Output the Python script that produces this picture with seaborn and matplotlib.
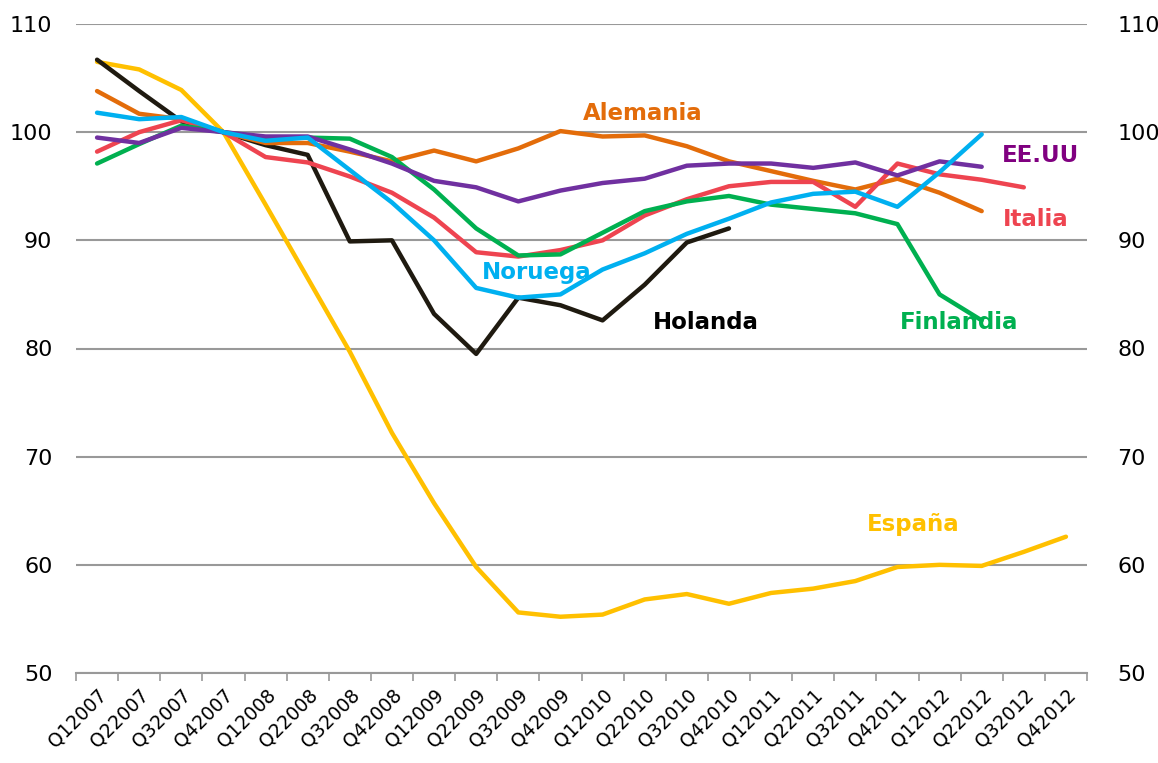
import numpy as np
import pandas as pd
import matplotlib
matplotlib.use("Agg")
import matplotlib.pyplot as plt
import seaborn as sns

quarters = ["Q12007", "Q22007", "Q32007", "Q42007", "Q12008", "Q22008", "Q32008", "Q42008",
            "Q12009", "Q22009", "Q32009", "Q42009", "Q12010", "Q22010", "Q32010", "Q42010",
            "Q12011", "Q22011", "Q32011", "Q42011", "Q12012", "Q22012", "Q32012", "Q42012"]

espana = [106.5, 105.8, 103.9, 100.0, 93.3, 86.5, 79.7, 72.2, 65.7, 59.8, 55.6, 55.2,
          55.4, 56.8, 57.3, 56.4, 57.4, 57.8, 58.5, 59.8, 60.0, 59.9, 61.2, 62.6]
holanda = [106.7, 103.8, 101.0, 100.0, 98.8, 97.9, 89.9, 90.0, 83.2, 79.5, 84.7, 84.0,
           82.6, 85.9, 89.8, 91.1]
alemania = [103.8, 101.7, 101.2, 100.0, 99.0, 99.0, 98.2, 97.3, 98.3, 97.3, 98.5, 100.1,
            99.6, 99.7, 98.7, 97.3, 96.4, 95.5, 94.7, 95.7, 94.4, 92.7]
eeuu = [99.5, 99.0, 100.4, 100.0, 99.6, 99.6, 98.4, 97.1, 95.5, 94.9, 93.6, 94.6,
        95.3, 95.7, 96.9, 97.1, 97.1, 96.7, 97.2, 96.0, 97.3, 96.8]
italia = [98.2, 100.0, 101.1, 100.0, 97.7, 97.2, 95.9, 94.4, 92.1, 88.9, 88.5, 89.1,
          90.0, 92.3, 93.8, 95.0, 95.4, 95.4, 93.1, 97.1, 96.1, 95.6, 94.9]
finlandia = [97.1, 98.9, 100.6, 100.0, 99.5, 99.5, 99.4, 97.7, 94.7, 91.1, 88.6, 88.7,
             90.7, 92.7, 93.6, 94.1, 93.3, 92.9, 92.5, 91.5, 85.0, 82.6]
noruega = [101.8, 101.2, 101.4, 100.0, 99.2, 99.5, 96.5, 93.5, 90.0, 85.6, 84.7, 85.0,
           87.3, 88.8, 90.6, 92.0, 93.5, 94.3, 94.5, 93.1, 96.3, 99.8]

series = {
    "España": espana,
    "Holanda": holanda,
    "Alemania": alemania,
    "Italia": italia,
    "Finlandia": finlandia,
    "EE.UU": eeuu,
    "Noruega": noruega,
}
colors = {
    "España": "#FFC000",
    "Holanda": "#1F1A10",
    "Alemania": "#E36C0A",
    "Italia": "#EE4450",
    "Finlandia": "#00B050",
    "EE.UU": "#7030A0",
    "Noruega": "#00B0F0",
}

rows = []
for name, vals in series.items():
    for i, v in enumerate(vals):
        rows.append({"idx": i, "valor": v, "pais": name})
df = pd.DataFrame(rows)

sns.set_theme(style="white")
plt.rcParams["font.family"] = ["DejaVu Sans"]

fig = plt.figure(figsize=(11.58, 7.63), dpi=100)
ax = fig.add_axes([76 / 1158, 1 - 673 / 763, (1087 - 76) / 1158, (673 - 24) / 763])

sns.lineplot(data=df, x="idx", y="valor", hue="pais", palette=colors,
             hue_order=list(series.keys()), linewidth=3.2, ax=ax, legend=False,
             sort=False)

ax.set_xlim(-0.5, len(quarters) - 0.5)
ax.set_ylim(50, 110)
yt = np.arange(50, 111, 10)
ax.set_yticks(yt)
ax.yaxis.grid(True, color="#999999", linewidth=1.5)
ax.set_axisbelow(True)
for s in ["top", "left", "right"]:
    ax.spines[s].set_visible(False)
ax.spines["bottom"].set_color("#999999")
ax.spines["bottom"].set_linewidth(1.5)

ax.set_xticks(range(len(quarters)))
ax.set_xticklabels(quarters, rotation=45, ha="right", rotation_mode="anchor",
                   fontsize=13.5, color="#000000")
ax.tick_params(axis="x", which="major", length=0, pad=9)
ax.set_xticks(np.arange(-0.5, len(quarters), 1), minor=True)
ax.tick_params(axis="x", which="minor", length=6, color="#999999", width=1.2,
               direction="out", bottom=True)

ax.tick_params(axis="y", which="major", length=0, labelsize=16, pad=17,
               labelleft=True, labelright=False, colors="#000000")
ax.set_xlabel("")
ax.set_ylabel("")

ax2 = ax.twinx()
ax2.set_ylim(50, 110)
ax2.set_yticks(yt)
ax2.tick_params(axis="y", which="major", length=0, labelsize=16, pad=22,
                colors="#000000")
for s in ["top", "left", "right", "bottom"]:
    ax2.spines[s].set_visible(False)
ax2.grid(False)
ax2.set_ylabel("")

labels = [
    ("Alemania", 643, 113, "#E36C0A"),
    ("Noruega", 537, 272, "#00B0F0"),
    ("Holanda", 706, 323, "#000000"),
    ("Finlandia", 959, 323, "#00B050"),
    ("EE.UU", 1040, 156, "#800080"),
    ("Italia", 1036, 219, "#EE4450"),
    ("España", 913, 525, "#FFC000"),
]
for txt, px, py, c in labels:
    fig.text(px / 1158, 1 - py / 763, txt, color=c, fontsize=16.5, fontweight="bold",
             ha="center", va="center")

fig.savefig("out.png", dpi=100)
